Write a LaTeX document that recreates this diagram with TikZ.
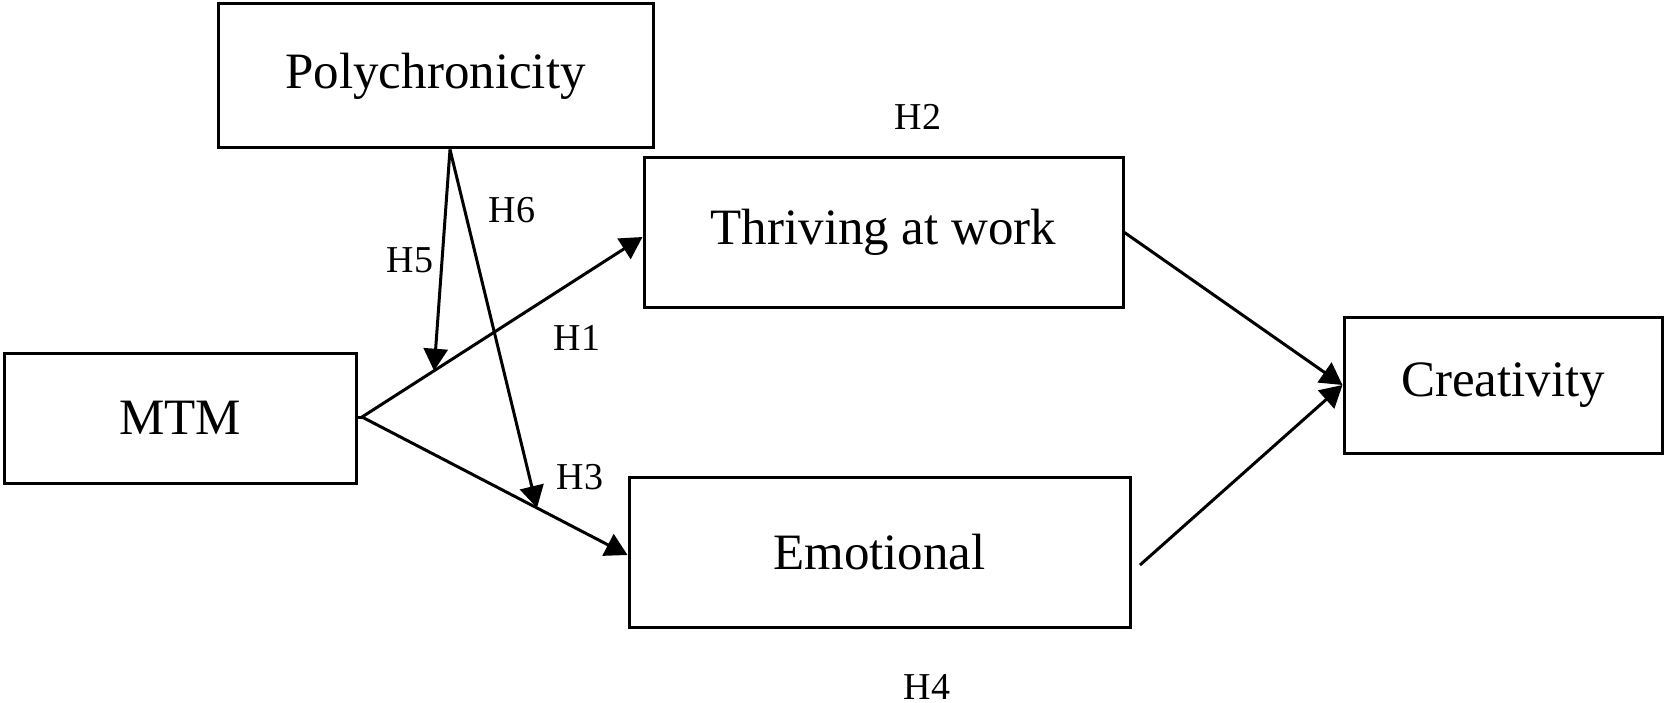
\documentclass[tikz,border=0pt]{standalone}
\usepackage{fontspec}
\setmainfont{Liberation Serif}
\usetikzlibrary{arrows.meta,calc}
\begin{document}
\begin{tikzpicture}[x=1pt,y=-1pt,
  box/.style={draw,line width=3pt,inner sep=0pt,font=\fontsize{51}{60}\selectfont},
  hlab/.style={inner sep=0pt,font=\fontsize{38}{44}\selectfont},
  conn/.style={line width=3pt},
  arr/.style={line width=3pt,-{Triangle[length=22pt,width=24pt]}}]
\useasboundingbox (0,0) rectangle (1667,703);
\node[box,minimum width=435pt,minimum height=144pt] (poly) at (435.5,76) {Polychronicity};
\node[box,minimum width=479pt,minimum height=149pt] (thr) at (883.5,232.5) {Thriving at work};
\node[box,minimum width=318pt,minimum height=136pt] (cre) at (1503,385) {Creativity};
\node[box,minimum width=352pt,minimum height=130pt] (mtm) at (180,418) {MTM};
\node[box,minimum width=501pt,minimum height=150pt] (emo) at (879.5,552) {Emotional};
\coordinate (apex) at (362,417);
\coordinate (thrin) at ([yshift=-4.5pt]thr.west);
\coordinate (emoin) at ([yshift=-3pt]emo.west);
\coordinate (polyout) at ([xshift=14.5pt]poly.south);
\coordinate (emoout) at (1140,565);
\coordinate (h5tip) at ($(apex)!0.257!(thrin)$);
\coordinate (h6tip) at ($(apex)!0.659!(emoin)$);
\draw[conn] (mtm.east |- apex) -- (apex);
\draw[arr] (apex) -- (thrin);
\draw[arr] (apex) -- (emoin);
\draw[arr] (thr.east) -- (cre.west);
\draw[arr] (emoout) -- (cre.west);
\draw[arr] (polyout) -- (h5tip);
\draw[arr] (polyout) -- (h6tip);
\node[hlab] (h2) at (918,117) {H2};
\node[hlab] (h6) at (512,210) {H6};
\node[hlab] (h5) at (410,260) {H5};
\node[hlab] (h1) at (577,338) {H1};
\node[hlab] (h3) at (580,477) {H3};
\node[hlab] (h4) at (927,687) {H4};
\end{tikzpicture}
\end{document}
